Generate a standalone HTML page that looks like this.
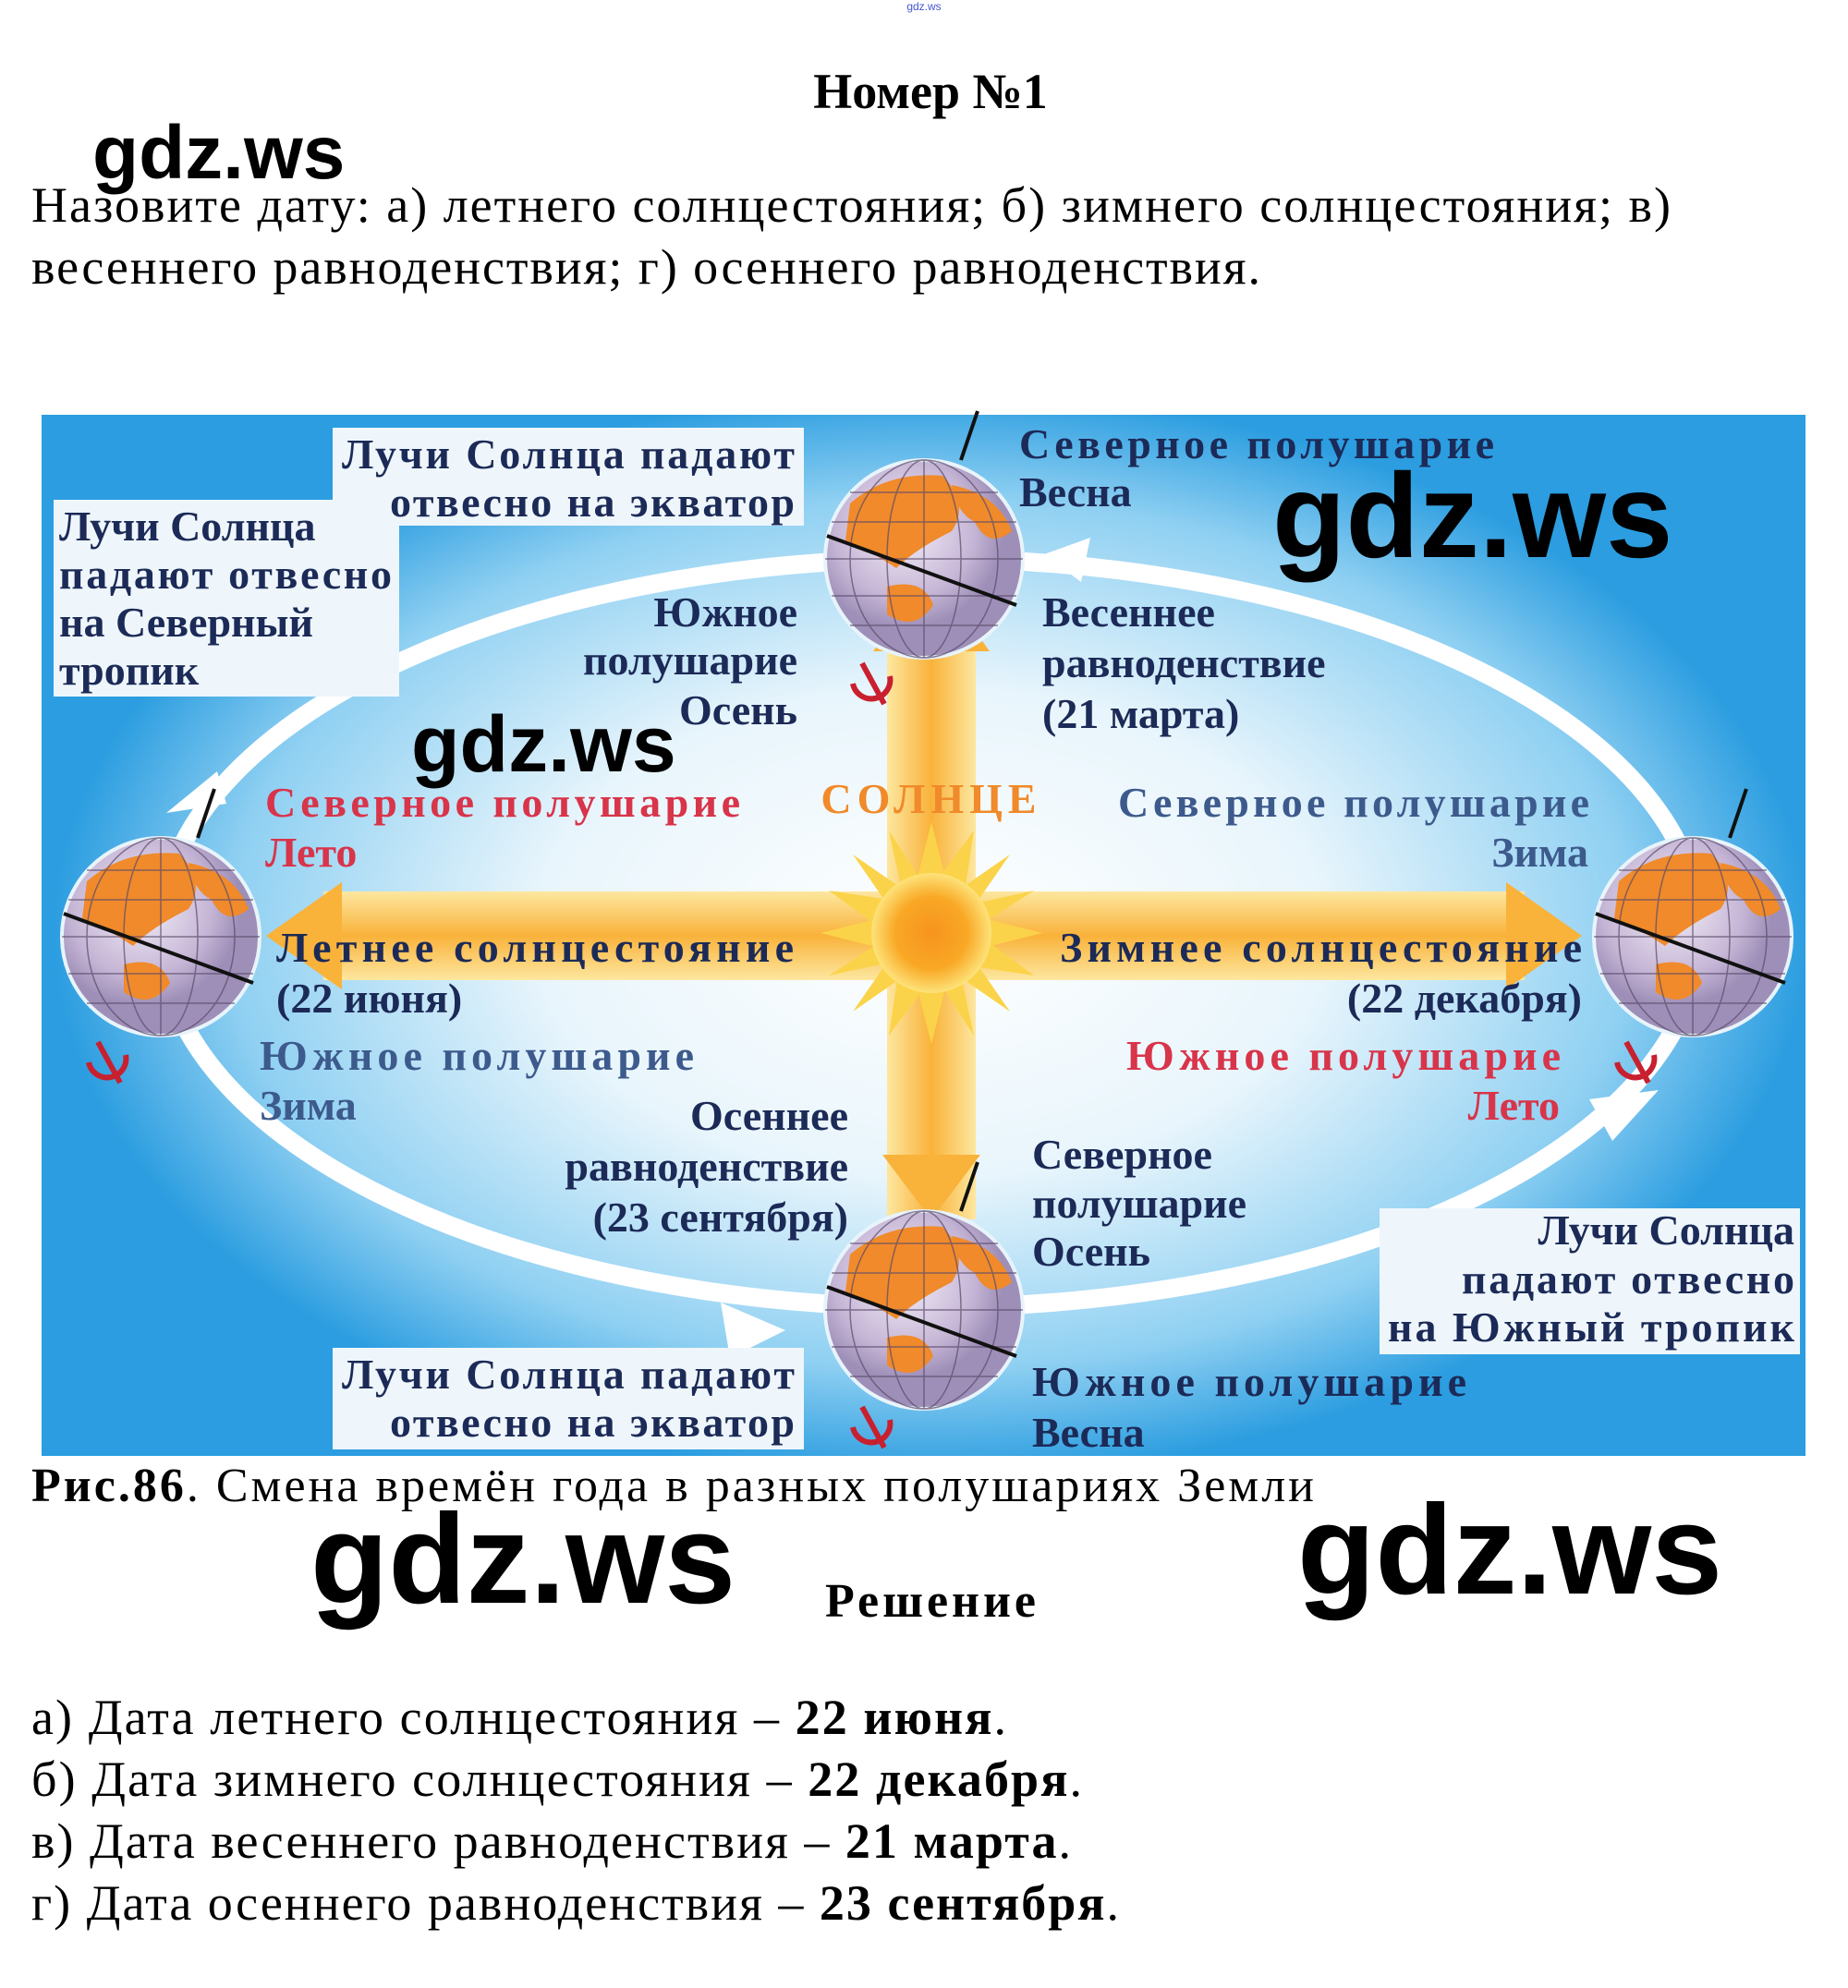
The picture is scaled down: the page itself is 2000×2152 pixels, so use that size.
<!DOCTYPE html>
<html><head><meta charset="utf-8"><style>
html,body{margin:0;padding:0;background:#fff}
svg{display:block}
.s{font-family:"Liberation Serif",serif}
.w{font-family:"Liberation Sans",sans-serif;font-weight:bold}
.lb{font-family:"Liberation Serif",serif;font-weight:bold;font-size:46px;fill:#1c2a57}
</style></head><body>
<svg width="2000" height="2152" viewBox="0 0 2000 2152" xmlns="http://www.w3.org/2000/svg">
<defs>
<radialGradient id="bg" gradientUnits="userSpaceOnUse" cx="1007" cy="1010" r="950" gradientTransform="translate(1007 1010) scale(1 0.62) translate(-1007 -1010)">
<stop offset="0" stop-color="#ffffff"/><stop offset="0.45" stop-color="#e8f5fc"/><stop offset="0.8" stop-color="#8fd0f2"/><stop offset="1" stop-color="#2b9de0"/></radialGradient>
<linearGradient id="vb" x1="0" y1="0" x2="1" y2="0"><stop offset="0" stop-color="#fde7a0"/><stop offset="0.5" stop-color="#f9b23a"/><stop offset="1" stop-color="#fde7a0"/></linearGradient>
<linearGradient id="hb" x1="0" y1="0" x2="0" y2="1"><stop offset="0" stop-color="#fde7a0"/><stop offset="0.5" stop-color="#f9b23a"/><stop offset="1" stop-color="#fde7a0"/></linearGradient>
<radialGradient id="sun"><stop offset="0" stop-color="#f7931e"/><stop offset="0.6" stop-color="#f9a825"/><stop offset="1" stop-color="#fde37a"/></radialGradient>
<radialGradient id="gl" cx="0.4" cy="0.35"><stop offset="0" stop-color="#f3eef7"/><stop offset="0.7" stop-color="#c6b6d6"/><stop offset="1" stop-color="#9e8fb8"/></radialGradient>
<g id="globe">
<circle r="107" fill="url(#gl)" stroke="#e8f4fb" stroke-width="4"/>
<path d="M-80,-60 Q-40,-95 20,-90 Q50,-60 30,-30 Q-10,-10 -30,10 Q-60,-10 -85,-20Z" fill="#f08a2a"/>
<path d="M30,-80 Q80,-70 95,-30 Q70,-10 55,-40 Q35,-50 30,-80Z" fill="#f08a2a"/>
<path d="M-40,30 Q0,20 10,50 Q-10,80 -40,60Z" fill="#f08a2a"/>
<g stroke="#5a4a6a" stroke-width="1.5" fill="none" opacity="0.7">
<ellipse rx="40" ry="107"/><ellipse rx="80" ry="107"/><line x1="0" y1="-107" x2="0" y2="107"/>
<line x1="-100" y1="-40" x2="100" y2="-40"/><line x1="-107" y1="0" x2="107" y2="0"/><line x1="-100" y1="40" x2="100" y2="40"/><line x1="-80" y1="72" x2="80" y2="72"/><line x1="-80" y1="-72" x2="80" y2="-72"/></g>
<line x1="-105" y1="-25" x2="100" y2="50" stroke="#111" stroke-width="4"/>
<line x1="40" y1="-107" x2="58" y2="-160" stroke="#111" stroke-width="4"/>
</g>
<g id="sym"><path d="M-12,-22 L12,22 M-22,0 A20 20 0 1 0 18,-8" stroke="#c8202f" stroke-width="6" fill="none"/></g>
</defs>

<text x="1000" y="11" font-family="Liberation Sans,sans-serif" font-size="12" fill="#4455cc" text-anchor="middle">gdz.ws</text>
<text class="s" x="1007" y="117" font-size="54" font-weight="bold" text-anchor="middle">Номер №1</text>
<text class="w" x="100" y="193" font-size="82">gdz.ws</text>
<text class="s" x="34" y="240" font-size="54" textLength="1774">Назовите дату: а) летнего солнцестояния; б) зимнего солнцестояния; в)</text>
<text class="s" x="34" y="307" font-size="54" textLength="1330">весеннего равноденствия; г) осеннего равноденствия.</text>

<rect x="45" y="449" width="1909" height="1127" fill="url(#bg)"/>
<ellipse cx="1007" cy="1010" rx="833" ry="405" fill="none" stroke="#fff" stroke-width="20"/>
<g fill="#fff">
<polygon points="180,880 235,835 245,870"/>
<polygon points="1180,582 1130,600 1170,630"/>
<polygon points="850,1440 780,1410 790,1470"/>
<polygon points="1795,1180 1720,1190 1745,1235"/>
</g>
<rect x="960" y="700" width="96" height="620" fill="url(#vb)"/>
<polygon points="1008,617 945,705 1071,705" fill="#f9b23a"/>
<polygon points="1008,1320 955,1250 1061,1250" fill="#f9b23a"/>
<rect x="350" y="965" width="1300" height="96" fill="url(#hb)"/>
<polygon points="288,1013 370,955 370,1071" fill="#f9b23a"/>
<polygon points="1712,1013 1630,955 1630,1071" fill="#f9b23a"/>
<g transform="translate(1008,1010)">
<polygon points="0,-120 20,-40 85,-85 40,-20 120,0 40,20 85,85 20,40 0,120 -20,40 -85,85 -40,20 -120,0 -40,-20 -85,-85 -20,-40" fill="#fbd34a"/>
<polygon points="0,-120 20,-40 85,-85 40,-20 120,0 40,20 85,85 20,40 0,120 -20,40 -85,85 -40,20 -120,0 -40,-20 -85,-85 -20,-40" fill="#fbd34a" transform="rotate(22.5)"/>
<circle r="65" fill="url(#sun)"/></g>
<text x="1008" y="880" font-family="Liberation Serif,serif" font-weight="bold" font-size="46" fill="#f08a2a" text-anchor="middle" letter-spacing="6">СОЛНЦЕ</text>

<use href="#globe" x="1000" y="605"/>
<use href="#globe" x="174" y="1014"/>
<use href="#globe" x="1832" y="1014"/>
<use href="#globe" x="1000" y="1418"/>
<use href="#sym" x="945" y="740"/>
<use href="#sym" x="118" y="1150"/>
<use href="#sym" x="1772" y="1150"/>
<use href="#sym" x="945" y="1545"/>

<g fill="#eef6fb">
<rect x="360" y="463" width="510" height="106"/>
<rect x="58" y="541" width="374" height="213"/>
<rect x="360" y="1459" width="510" height="110"/>
<rect x="1493" y="1308" width="455" height="158"/>
</g>
<g class="lb">
<text x="370" y="507" textLength="490">Лучи Солнца падают</text>
<text x="422" y="559" textLength="438">отвесно на экватор</text>
<text x="1103" y="496" textLength="514">Северное полушарие</text>
<text x="1103" y="548">Весна</text>
<text x="64" y="585">Лучи Солнца</text>
<text x="64" y="637" textLength="360">падают отвесно</text>
<text x="64" y="689">на Северный</text>
<text x="64" y="741">тропик</text>
<text x="863" y="678" text-anchor="end">Южное</text>
<text x="863" y="730" text-anchor="end">полушарие</text>
<text x="863" y="784" text-anchor="end">Осень</text>
<text x="1128" y="678">Весеннее</text>
<text x="1128" y="733">равноденствие</text>
<text x="1128" y="788">(21 марта)</text>
<text x="287" y="884" fill="#d8344a" textLength="514">Северное полушарие</text>
<text x="287" y="938" fill="#d8344a">Лето</text>
<text x="1210" y="884" fill="#3d5a8c" textLength="510">Северное полушарие</text>
<text x="1719" y="938" fill="#3d5a8c" text-anchor="end">Зима</text>
<text x="299" y="1041" textLength="560">Летнее солнцестояние</text>
<text x="299" y="1096">(22 июня)</text>
<text x="1712" y="1041" text-anchor="end" textLength="565">Зимнее солнцестояние</text>
<text x="1712" y="1096" text-anchor="end">(22 декабря)</text>
<text x="281" y="1158" fill="#3d5a8c" textLength="470">Южное полушарие</text>
<text x="281" y="1212" fill="#3d5a8c">Зима</text>
<text x="1219" y="1158" fill="#d8344a" textLength="470">Южное полушарие</text>
<text x="1688" y="1212" fill="#d8344a" text-anchor="end">Лето</text>
<text x="918" y="1223" text-anchor="end">Осеннее</text>
<text x="918" y="1278" text-anchor="end">равноденствие</text>
<text x="918" y="1333" text-anchor="end">(23 сентября)</text>
<text x="1117" y="1265">Северное</text>
<text x="1117" y="1318">полушарие</text>
<text x="1117" y="1370">Осень</text>
<text x="1942" y="1347" text-anchor="end">Лучи Солнца</text>
<text x="1942" y="1400" text-anchor="end" textLength="360">падают отвесно</text>
<text x="1942" y="1452" text-anchor="end" textLength="440">на Южный тропик</text>
<text x="370" y="1503" textLength="490">Лучи Солнца падают</text>
<text x="422" y="1555" textLength="438">отвесно на экватор</text>
<text x="1117" y="1511" textLength="470">Южное полушарие</text>
<text x="1117" y="1566">Весна</text>
</g>
<text class="w" x="1377" y="603" font-size="130">gdz.ws</text>
<text class="w" x="445" y="835" font-size="86">gdz.ws</text>

<text class="s" x="34" y="1625" font-size="52" textLength="1388"><tspan font-weight="bold">Рис.86</tspan>. Смена времён года в разных полушариях Земли</text>
<text class="w" x="336" y="1735" font-size="138">gdz.ws</text>
<text class="w" x="1404" y="1725" font-size="138">gdz.ws</text>
<text class="s" x="1007" y="1750" font-size="52" font-weight="bold" text-anchor="middle" textLength="228">Решение</text>
<text class="s" x="34" y="1877" font-size="54" textLength="1055">а) Дата летнего солнцестояния – <tspan font-weight="bold">22 июня</tspan>.</text>
<text class="s" x="34" y="1944" font-size="54" textLength="1137">б) Дата зимнего солнцестояния – <tspan font-weight="bold">22 декабря</tspan>.</text>
<text class="s" x="34" y="2011" font-size="54" textLength="1125">в) Дата весеннего равноденствия – <tspan font-weight="bold">21 марта</tspan>.</text>
<text class="s" x="34" y="2078" font-size="54" textLength="1177">г) Дата осеннего равноденствия – <tspan font-weight="bold">23 сентября</tspan>.</text>
</svg>
</body></html>
